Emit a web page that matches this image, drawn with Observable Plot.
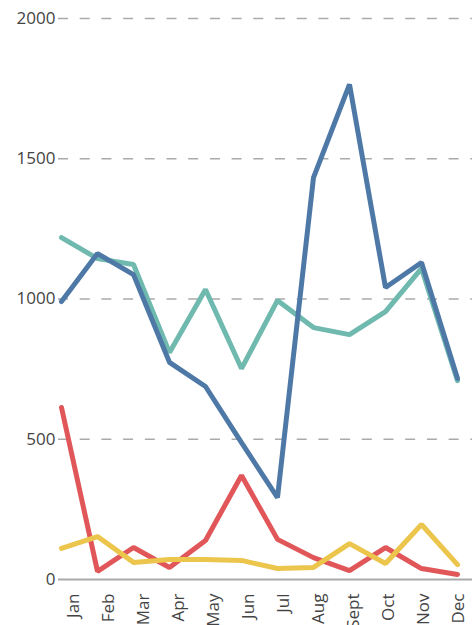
<!DOCTYPE html>
<html><head><meta charset="utf-8">
<script src="https://cdn.jsdelivr.net/npm/d3@7"></script>
<script src="https://cdn.jsdelivr.net/npm/@observablehq/plot@0.6"></script>
<style>html,body{margin:0;padding:0;background:#fff;} #chart{position:relative;width:472px;height:625px;overflow:hidden} #chart svg{display:block;position:absolute;left:0;top:0}</style>
</head><body><div id="chart"></div>
<script>
const months = ["Jan","Feb","Mar","Apr","May","Jun","Jul","Aug","Sept","Oct","Nov","Dec"];
const tealValues   = [1219, 1144, 1123, 809, 1034, 752, 995, 898, 873, 955, 1109, 709];
const blueValues   = [991, 1162, 1087, 774, 688, 488, 292, 1433, 1765, 1041, 1130, 717];
const redValues    = [613, 29, 114, 43, 139, 371, 143, 78, 32, 114, 39, 18];
const yellowValues = [111, 153, 61, 71, 71, 68, 39, 43, 128, 57, 196, 53];
const yTicks = [0, 500, 1000, 1500, 2000];

const series = [
  {name: "teal", color: "#6fb9ae", values: tealValues},
  {name: "blue", color: "#4e79a7", values: blueValues},
  {name: "red", color: "#e15759", values: redValues},
  {name: "yellow", color: "#ebc54c", values: yellowValues}
];

const frame = {
  width: 472, height: 625,
  marginLeft: 58, marginRight: 0, marginTop: 18, marginBottom: 46,
  style: {fontFamily: "'Open Sans', sans-serif", fontSize: "17px", color: "#444", background: "transparent", overflow: "visible"}
};

const chart = Plot.plot({
  ...frame,
  x: {type: "point", domain: months, padding: 0, insetRight: 12, axis: null},
  y: {domain: [0, 2000]},
  marks: [
    Plot.ruleY(yTicks.filter(d => d > 0), {stroke: "#aaa", strokeWidth: 1.5, strokeDasharray: "10,11.7"}),
    Plot.ruleY([0], {stroke: "#aaa", strokeWidth: 2}),
    ...series.map(s => Plot.line(s.values.map((v, i) => ({month: months[i], value: v})), {
      x: "month", y: "value", stroke: s.color, strokeWidth: 5, strokeLinejoin: "miter", strokeLinecap: "round"
    })),
    Plot.axisY({ticks: yTicks, tickSize: 0, tickPadding: 3, tickFormat: d => String(d), fontSize: 17, fill: "#444", label: null})
  ]
});

// month labels sit on a band-style layout, slightly offset from the line vertices
const labels = Plot.plot({
  ...frame,
  x: {type: "point", domain: months, padding: 0.365},
  y: {domain: [0, 2000], axis: null},
  marks: [
    Plot.axisX({tickSize: 0, tickRotate: -90, tickPadding: 14, fontSize: 17, fill: "#444", label: null})
  ]
});

const root = document.getElementById("chart");
root.appendChild(chart);
root.appendChild(labels);
</script>
</body></html>
